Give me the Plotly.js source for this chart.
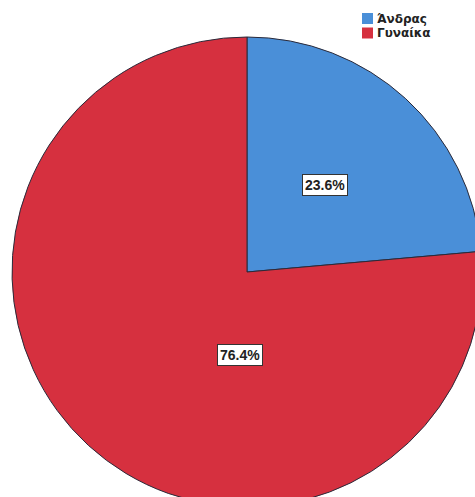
<!DOCTYPE html>
<html>
<head>
<meta charset="utf-8">
<script src="https://cdn.plot.ly/plotly-3.0.1.min.js"></script>
<style>
html,body{margin:0;padding:0;overflow:hidden;background:#fff;}
#chart{width:490px;height:510px;}
</style>
</head>
<body>
<div id="chart"></div>
<script>
var categories = ["Άνδρας", "Γυναίκα"];
var percentages = [23.6, 76.4];
var sliceColors = ["#4a8fd8", "#d6303f"];
var labelPos = [[0.666, 0.685], [0.485, 0.323]];

var trace = {
  type: "pie",
  labels: categories,
  values: percentages,
  sort: false,
  direction: "clockwise",
  rotation: 0,
  textinfo: "none",
  hoverinfo: "label+percent",
  marker: {colors: sliceColors, line: {color: "#2a2a3a", width: 1}},
  domain: {x: [0, 1], y: [0, 1]},
  showlegend: false
};

// paper coordinates: plot area is 470x470 starting at (12,37) px
function px2x(px) { return (px - 12) / 470; }
function px2y(py) { return 1 - (py - 37) / 470; }

var annotations = categories.map(function (c, i) {
  return {
    xref: "paper", yref: "paper",
    x: labelPos[i][0], y: labelPos[i][1],
    xanchor: "center", yanchor: "middle",
    text: "<b>" + percentages[i].toFixed(1) + "%</b>",
    showarrow: false,
    bgcolor: "#ffffff",
    bordercolor: "#333333",
    borderwidth: 1,
    borderpad: 2,
    font: {family: "Liberation Sans, Arial, sans-serif", size: 14, color: "#222"}
  };
});

// legend built from the categories and colours
var shapes = [];
categories.forEach(function (c, i) {
  var top = 13 + i * 14.5;
  shapes.push({
    type: "rect", xref: "paper", yref: "paper",
    x0: px2x(362), x1: px2x(373), y0: px2y(top), y1: px2y(top + 11),
    fillcolor: sliceColors[i], line: {width: 0}
  });
  annotations.push({
    xref: "paper", yref: "paper",
    x: px2x(375), y: px2y(top + 5.5),
    xanchor: "left", yanchor: "middle",
    text: "<b>" + c + "</b>",
    showarrow: false,
    font: {family: "DejaVu Sans, sans-serif", size: 12, color: "#222"}
  });
});

var layout = {
  width: 490, height: 510,
  margin: {l: 12, r: 8, t: 37, b: 3},
  paper_bgcolor: "#ffffff",
  showlegend: false,
  annotations: annotations,
  shapes: shapes
};

Plotly.newPlot("chart", [trace], layout, {displayModeBar: false, staticPlot: true});
</script>
</body>
</html>
